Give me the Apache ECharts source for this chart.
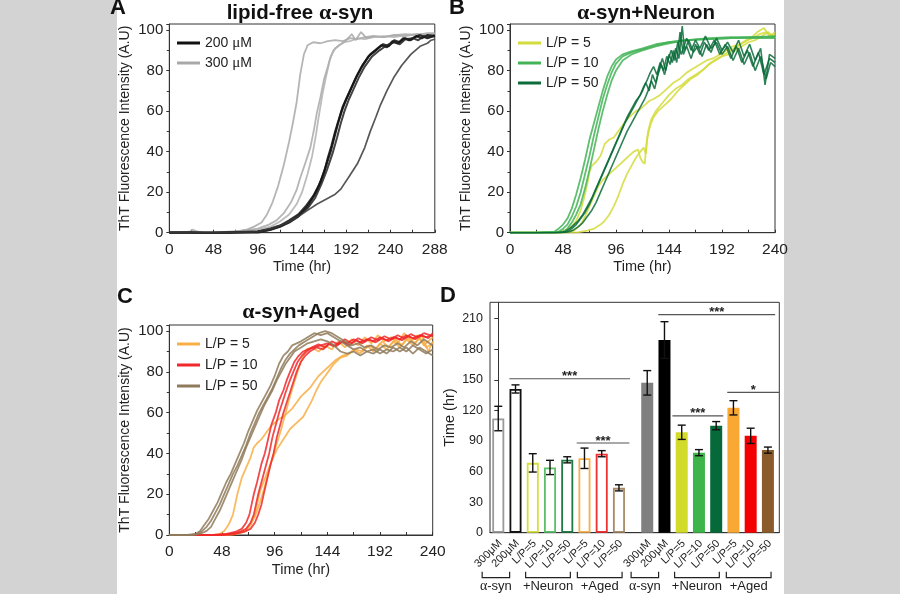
<!DOCTYPE html>
<html><head><meta charset="utf-8">
<script src="https://cdn.jsdelivr.net/npm/echarts@6/dist/echarts.min.js"></script>
<style>
html,body{margin:0;padding:0;}
body{width:900px;height:594px;overflow:hidden;background:linear-gradient(to right,#d3d3d3 0,#d3d3d3 117px,#fff 117px,#fff 784px,#d3d3d3 784px,#d3d3d3 900px);}
#c{width:900px;height:594px;}
</style></head><body><div id="c"></div>
<script>
const FONT = "'Liberation Sans', Arial, sans-serif";
const GREEK = "'Liberation Serif', 'DejaVu Serif', serif";

// ---------- Panel A : lipid-free a-syn (time hr, ThT A.U) ----------
const A300_1 = [[0,0],[12,0],[22,0.3],[25,1.5],[29,0.8],[36,0],[48,-0.3],[60,0],[72,0.5],[84,1.5],[92,3],[100,5],[106,9],[112,15],[118,23],[124,33],[130,45],[134,54],[138,64],[142,78],[146,88],[150,92.5],[156,94],[164,93.5],[172,94.5],[180,95],[188,94.5],[196,96],[204,95.5],[212,96.5],[220,97],[232,96.5],[244,97.5],[256,97],[268,98],[280,97.5],[288,98]];
const A300_2 = [[0,0],[24,0.5],[48,0],[72,0.5],[96,2],[108,4],[116,6],[124,9.5],[132,15],[138,21],[142,27],[148,35],[153,42],[157,51],[160,59],[164,67],[168,76],[172,82],[175,87],[180,91],[186,93],[192,95],[198,98],[202,95],[208,99],[214,96],[222,97],[232,96.5],[244,97.5],[256,98],[268,97.5],[280,98.5],[288,98.5]];
const A300_3 = [[0,0],[48,0],[96,1.5],[110,3],[120,5.5],[130,9],[138,14],[144,20],[150,29],[155,38],[159,48],[162,57],[166,68],[170,77],[174,85],[178,90],[184,92.5],[190,94],[196,94.5],[204,96],[212,95.5],[222,96.5],[232,97],[244,96.5],[256,97.5],[268,98],[280,97.5],[288,98]];
const A200_1 = [[0,0],[24,0],[48,-0.5],[72,0],[96,0.5],[110,2],[120,3.5],[130,6],[140,9],[148,13],[156,18],[162,23],[168,30],[172,37],[176,43],[180,50],[184,56],[188,62],[193,67],[198,72],[204,78],[210,83],[218,88],[226,91],[232,93],[238,92],[244,95],[250,94],[256,96],[262,95],[268,97],[274,96],[280,97.5],[288,97]];
const A200_2 = [[0,0],[48,0],[96,0.5],[110,1.5],[120,3],[130,5],[140,8],[150,13],[158,19],[164,25],[170,33],[175,40],[179,47],[183,54],[187,60],[192,66],[197,71],[203,77],[209,82],[216,87],[224,90],[230,92.5],[236,91.5],[242,94.5],[248,93.5],[254,96],[260,95],[266,96.5],[272,97.5],[280,96],[288,97.5]];
const A200_3 = [[0,0],[48,0],[96,0],[110,1.5],[120,3],[130,5.5],[140,8.5],[150,12],[158,17],[165,24],[171,31],[177,39],[182,47],[186,54],[190,60],[195,66],[200,71],[206,77],[212,82],[220,87],[228,90],[236,92.5],[244,94],[250,93],[256,95.5],[264,96],[270,95],[276,97],[282,96.5],[288,97]];
const A200_4 = [[0,0],[48,0],[96,0.5],[110,2],[120,3.5],[130,5.5],[140,8],[150,11],[160,14],[170,16.5],[180,19],[186,21.5],[194,27],[204,34],[212,42],[218,50],[224,57],[229,63],[236,70],[244,77],[252,82.5],[262,88],[272,92],[280,93.5],[284,95],[288,95.5]];

// ---------- Panel B : a-syn + Neuron ----------
const B10_1 = [[0,0],[24,0],[40,0.5],[44,2],[48,4],[52,7],[56,12],[60,19],[64,27],[68,36],[72,46],[76,54],[80,62],[84,70],[88,77],[92,82],[96,85.5],[102,88],[110,89.5],[120,91],[132,93],[144,94],[160,95],[180,95.5],[200,96],[220,96],[240,96]];
const B10_2 = [[0,0],[24,0],[44,0.5],[48,2],[52,4],[56,8],[60,13],[64,20],[68,29],[72,38],[76,48],[80,57],[84,66],[88,73],[92,79],[96,83.5],[102,87],[110,89],[120,90.5],[132,92.5],[144,94],[160,95],[180,96],[200,96.5],[220,96.5],[240,97]];
const B10_3 = [[0,0],[40,0],[48,0.5],[52,2],[56,5],[60,9],[64,14],[68,22],[72,31],[76,41],[80,51],[84,60],[88,68],[92,75],[96,80],[102,85],[110,88],[120,90],[132,92],[144,93.5],[160,95],[180,95.5],[200,96],[220,96.5],[240,96.5]];
const B50_1 = [[0,0],[40,0],[50,0.5],[54,2],[58,4],[62,6],[66,9],[70,13],[74,17],[78,22],[82,27],[86,32],[90,37],[94,42],[98,47],[102,52],[106,57],[110,61],[114,65],[118,68],[121,72],[124,75],[127,79],[130,82],[133,78],[136,84],[139,80],[142,87],[145,83],[148,90],[151,84],[154,99],[157,88],[160,92],[164,86],[168,93],[172,88],[176,94],[180,90],[185,95],[190,88],[195,93],[200,86],[205,92],[210,84],[215,90],[220,82],[225,89],[230,78],[235,86],[240,84]];
const B50_2 = [[0,0],[44,0],[52,0.5],[56,2],[60,4],[64,7],[68,10],[72,14],[76,19],[80,24],[84,29],[88,34],[92,39],[96,44],[100,49],[104,54],[108,58],[112,62],[116,66],[120,70],[123,74],[126,70],[129,78],[132,74],[135,81],[138,86],[141,80],[144,88],[147,84],[150,91],[153,86],[156,102],[158,90],[162,95],[166,89],[170,92],[174,87],[178,93],[182,89],[187,96],[192,90],[197,94],[202,89],[207,95],[212,87],[217,93],[222,85],[227,91],[231,73],[235,88],[240,86]];
const B50_3 = [[0,0],[46,0],[54,0.5],[58,1.5],[62,3],[66,5],[70,8],[74,11],[78,15],[82,20],[86,25],[90,30],[94,35],[98,40],[102,45],[106,50],[110,54],[114,58],[118,62],[122,66],[125,70],[128,75],[131,71],[134,78],[137,83],[140,78],[143,85],[146,90],[149,85],[152,94],[155,88],[160,96],[164,90],[168,95],[172,91],[177,97],[182,91],[187,94],[192,88],[197,92],[202,85],[207,91],[212,83],[217,89],[222,80],[227,87],[232,76],[236,84],[240,82]];
const B5_1 = [[0,0],[40,0],[50,1],[56,3],[60,6],[64,11],[67,17],[70,24],[72,30],[74,33],[78,35],[82,38],[86,44],[90,46],[94,47],[98,50],[102,53],[106,56],[110,58],[114,60],[118,61],[122,63],[126,65],[130,66],[136,68],[142,71],[148,74],[154,76],[160,79],[166,81],[172,83],[178,85],[184,86],[190,88],[196,90],[202,92],[208,93],[214,95],[220,96],[226,98],[232,99],[236,97],[240,98]];
const B5_2 = [[0,0],[50,0],[58,1],[64,4],[68,8],[72,13],[76,18],[80,23],[84,26],[88,28],[92,30],[96,32],[100,34],[104,36],[108,38],[112,40],[116,41],[118,37],[120,35],[122,34],[124,46],[127,53],[130,57],[134,60],[140,63],[146,66],[152,70],[158,73],[164,76],[170,78],[176,81],[182,84],[188,86],[194,88],[200,90],[206,92],[212,94],[218,96],[224,99],[230,101],[235,97],[240,99]];
const B5_3 = [[0,0],[60,0],[70,1],[76,2],[82,4],[86,6],[90,9],[94,13],[98,18],[102,24],[106,29],[110,33],[114,37],[118,40],[121,42],[123,39],[125,50],[128,56],[132,60],[138,64],[144,68],[150,71],[156,73],[162,76],[168,78],[174,80],[180,83],[186,85],[192,87],[198,88],[204,90],[210,92],[216,94],[222,95],[228,97],[234,99],[240,96]];

// ---------- Panel C : a-syn + Aged ----------
const C50_1 = [[0,0],[16,0],[24,0.5],[28,2],[32,5],[36,8],[40,12],[44,16],[48,21],[52,26],[56,30],[60,35],[64,40],[68,45],[72,51],[76,56],[80,61],[84,65],[88,69],[92,73],[96,78],[100,84],[104,88],[108,90],[112,93],[116,94],[120,95],[126,97],[132,99],[138,98],[144,99],[150,97],[156,95],[162,93],[168,91],[174,92],[180,90],[186,91],[192,89],[198,91],[204,90],[210,92],[216,90],[222,93],[228,91],[234,89],[240,91]];
const C50_2 = [[0,0],[20,0],[26,0.5],[30,2],[34,4],[38,7],[42,11],[46,15],[50,20],[54,25],[58,30],[62,34],[66,39],[70,44],[74,50],[78,55],[82,60],[86,64],[90,68],[94,72],[98,77],[102,82],[106,86],[110,89],[114,91],[118,93],[124,95],[130,97],[136,99],[142,100],[148,99],[154,97],[160,95],[166,93],[172,94],[178,92],[184,93],[190,91],[196,93],[202,92],[208,94],[214,92],[220,95],[226,93],[232,96],[240,93]];
const C50_3 = [[0,0],[22,0],[30,1],[34,2],[38,4],[42,8],[46,12],[50,17],[54,22],[58,27],[62,32],[66,37],[70,43],[74,48],[78,53],[82,58],[86,63],[90,67],[94,71],[98,76],[102,80],[106,84],[110,87],[114,90],[120,92],[126,94],[132,95],[138,96],[144,95],[150,93],[156,90],[162,89],[168,90],[174,88],[180,90],[186,89],[192,91],[198,89],[204,92],[210,90],[216,92],[222,89],[228,92],[234,90],[240,88]];
const C10_1 = [[0,0],[40,0],[52,0.5],[60,1.5],[66,3],[70,6],[73,10],[75,15],[77,20],[80,26],[84,35],[87,40],[90,47],[93,54],[97,60],[100,66],[104,71],[107,76],[110,80],[114,85],[118,88],[122,90],[126,91],[132,92],[138,93],[144,94],[150,92.5],[156,95],[162,94],[168,96],[174,94.5],[180,96],[186,95],[192,97],[198,95.5],[204,97],[210,96],[216,98],[222,96.5],[228,98],[234,97],[240,98]];
const C10_2 = [[0,0],[44,0],[56,0.5],[64,1.5],[70,3],[74,6],[77,10],[79,15],[81,20],[84,26],[88,34],[91,40],[94,48],[97,54],[100,60],[103,65],[106,70],[110,76],[113,80],[117,85],[121,88],[125,90],[130,92],[136,93.5],[142,92],[148,95],[154,93.5],[160,96],[166,94],[172,96.5],[178,95],[184,97],[190,95.5],[196,97.5],[202,96],[208,98],[214,96.5],[220,98.5],[226,97],[232,99],[240,97.5]];
const C10_3 = [[0,0],[48,0],[60,0.5],[68,1.5],[74,3],[78,6],[81,10],[84,15],[86,20],[89,27],[92,34],[95,40],[98,48],[101,54],[104,60],[107,65],[110,70],[113,75],[116,80],[120,85],[124,88],[128,90],[134,92],[140,91],[146,94],[152,92.5],[158,95],[164,93],[170,95.5],[176,94],[182,96],[188,94.5],[194,96.5],[200,95],[206,97],[212,95.5],[218,97.5],[224,96],[230,98],[236,96.5],[240,99]];
const C5_1 = [[0,0],[40,0],[46,0.5],[50,2],[54,5],[58,10],[60,15],[62,20],[64,24],[66,28],[70,33],[74,38],[77,43],[80,45],[84,47],[88,50],[92,53],[96,55],[100,57],[104,58],[108,60],[112,62],[116,65],[120,68],[124,70],[128,72],[132,75],[136,78],[140,80],[146,83],[152,86],[158,88],[164,89],[170,91],[176,90],[182,93],[188,91],[194,95],[200,92],[206,96],[212,93],[218,97],[224,94],[230,98],[236,90],[240,95]];
const C5_2 = [[0,0],[50,0],[60,0.5],[68,2],[74,5],[78,10],[80,15],[83,22],[88,29],[93,36],[98,42],[104,47],[110,52],[116,55],[122,58],[126,62],[130,66],[134,71],[138,75],[142,78],[146,81],[150,84],[156,87],[162,88],[168,91],[174,89],[180,93],[186,90],[192,94],[198,91],[204,95],[210,92],[216,96],[222,93],[228,97],[234,92],[240,94]];
const C5_3 = [[0,0],[50,0],[62,0.5],[70,2],[74,5],[78,9],[82,15],[86,22],[90,30],[94,38],[98,45],[102,52],[106,60],[110,68],[114,75],[118,82],[122,88],[125,91],[130,92],[136,90],[142,93],[148,91],[154,95],[160,92],[166,96],[172,93],[178,97],[184,94],[190,98],[196,95],[202,97],[208,94],[214,99],[220,95],[226,98],[232,93],[240,97]];

// ---------- Panel D : time bars ----------
const dLabels = ['300μM','200μM','L/P=5','L/P=10','L/P=50','L/P=5','L/P=10','L/P=50','300μM','200μM','L/P=5','L/P=10','L/P=50','L/P=5','L/P=10','L/P=50'];
const dValues = [112,141,68.5,64,71.5,73,77.5,44, 147,189,98.5,78.5,105,122.5,95,81];
const dErrors = [12,4,9,7,3,10,3,3, 12,18,7,3,4,7,7.5,3];
const dGroups = [[0,1],[2,4],[5,7],[8,9],[10,12],[13,15]];
const dGroupNames = ['{g|α}-syn','+Neuron','+Aged','{g|α}-syn','+Neuron','+Aged'];
const sigLines = [[0.64,7.64,151],[4.55,7.6,88],[9.28,16.06,214],[10.1,13.05,114.6],[13.28,16.3,137.6]];
const sigText = ['***','***','***','***','*'];

// styles
const openColors = ['#9a9a9a','#111111','#d6df3c','#5cc068','#1f7a45','#f8b04c','#ee3030','#a88a68'];
const fillColors = ['#808080','#000000','#d2db2a','#3db54a','#05693a','#f9a834','#f50000','#8c5b2c'];
const GROUP_GAP = 0.64;
function pos(i){ return i + (i >= 8 ? GROUP_GAP : 0); }

const chart = echarts.init(document.getElementById('c'));

function timeAxis(gi,max){
  return {gridIndex:gi,type:'value',min:0,max:max,interval:48,
    axisLine:{show:true,onZero:false,lineStyle:{color:'#333',width:1}},
    axisTick:{show:true,inside:true,length:3,lineStyle:{color:'#333'}},
    minorTick:{show:true,splitNumber:2,length:3,lineStyle:{color:'#333'}},
    splitLine:{show:false}, minorSplitLine:{show:false},
    axisLabel:{fontSize:15.5,color:'#222',fontFamily:FONT,margin:9},
    name:'Time (hr)',nameLocation:'middle',nameGap:27,
    nameTextStyle:{fontSize:14.5,color:'#222',fontFamily:FONT}};
}
function thtAxis(gi){
  return {gridIndex:gi,type:'value',min:0,max:103,interval:20,
    axisLine:{show:true,onZero:false,lineStyle:{color:'#333',width:1}},
    axisTick:{show:true,length:3,lineStyle:{color:'#333'}},
    minorTick:{show:true,splitNumber:2,length:2.5,lineStyle:{color:'#333'}},
    splitLine:{show:false}, minorSplitLine:{show:false},
    axisLabel:{fontSize:15,color:'#222',fontFamily:FONT,margin:6,showMaxLabel:false},
    name:'ThT Fluorescence Intensity (A.U)',nameLocation:'middle',nameGap:37,
    nameTextStyle:{fontSize:14,color:'#222',fontFamily:FONT}};
}
function curve(name,gi,data,color,width,z){
  return {type:'line',name:name,xAxisIndex:gi,yAxisIndex:gi,data:data,showSymbol:false,symbol:'none',
    lineStyle:{color:color,width:width,opacity:0.85},itemStyle:{color:color},silent:true,z:z||2};
}
const legendNames = {A200:'200 {g|μ}M',A300:'300 {g|μ}M',B5:'L/P = 5',B10:'L/P = 10',B50:'L/P = 50',C5:'L/P = 5',C10:'L/P = 10',C50:'L/P = 50'};
function legend(left,top,names,gap){
  return {left:left,top:top,orient:'vertical',padding:0,itemGap:gap,itemWidth:23,itemHeight:3,icon:'rect',
    selectedMode:false,data:names,formatter:n=>legendNames[n],
    textStyle:{fontSize:14,color:'#222',fontFamily:FONT,lineHeight:16,rich:{g:{fontFamily:GREEK,fontSize:15,color:'#222'}}}};
}
const titleRichStyle = {b:{fontSize:20.5,fontWeight:'bold',fontFamily:FONT,color:'#111'},g:{fontSize:22,fontFamily:GREEK,color:'#111'}};
const letterStyle = {fontSize:22,fontWeight:'bold',fontFamily:FONT,color:'#111'};

const option = {
  animation:false,
  backgroundColor:'transparent',
  title:[
    {text:'A',left:110,top:-3,padding:0,textStyle:letterStyle},
    {text:'B',left:449,top:-3,padding:0,textStyle:letterStyle},
    {text:'C',left:117,top:286,padding:0,textStyle:letterStyle},
    {text:'D',left:440,top:285,padding:0,textStyle:letterStyle},
    {text:'{b|lipid-free }{g|α}{b|-syn}',left:300,top:2,padding:0,textAlign:'center',textStyle:{rich:titleRichStyle}},
    {text:'{g|α}{b|-syn+Neuron}',left:646,top:2,padding:0,textAlign:'center',textStyle:{rich:titleRichStyle}},
    {text:'{g|α}{b|-syn+Aged}',left:301,top:301,padding:0,textAlign:'center',textStyle:{rich:titleRichStyle}}
  ],
  legend:[
    legend(177,35,['A200','A300'],4),
    legend(518,35,['B5','B10','B50'],4),
    legend(177,336,['C5','C10','C50'],5)
  ],
  grid:[
    {left:169.3,top:24,width:265.5,height:208.7,show:true,borderColor:'#333',borderWidth:1,backgroundColor:'transparent'},
    {left:510,top:24,width:265,height:208.7,show:true,borderColor:'#333',borderWidth:1,backgroundColor:'transparent'},
    {left:169.3,top:325,width:263.4,height:210,show:true,borderColor:'#333',borderWidth:1,backgroundColor:'transparent'},
    {left:490,top:302.3,width:289.3,height:230.4,show:true,borderColor:'#333',borderWidth:1,backgroundColor:'transparent'}
  ],
  xAxis:[
    timeAxis(0,288), timeAxis(1,240), timeAxis(2,240),
    {gridIndex:3,type:'value',min:-0.48,max:16.3,axisLine:{show:true,lineStyle:{color:'#333'}},axisTick:{show:false},axisLabel:{show:false},splitLine:{show:false}}
  ],
  yAxis:[
    thtAxis(0), thtAxis(1), thtAxis(2),
    {gridIndex:3,type:'value',min:0,max:226,interval:30,
      axisLine:{show:true,lineStyle:{color:'#333'}},axisTick:{show:true,length:4,lineStyle:{color:'#333'}},
      splitLine:{show:false},axisLabel:{fontSize:12.5,color:'#222',fontFamily:FONT,margin:7,showMaxLabel:false},
      name:'Time (hr)',nameLocation:'middle',nameGap:33,nameTextStyle:{fontSize:14.5,color:'#222',fontFamily:FONT}}
  ],
  series:[
    curve('A300',0,A300_1,'#a8a8a8',1.8), curve('A300',0,A300_2,'#a8a8a8',1.8), curve('A300',0,A300_3,'#b0b0b0',1.8),
    curve('A200',0,A200_1,'#111111',2.2,3), curve('A200',0,A200_2,'#111111',2.2,3), curve('A200',0,A200_3,'#222222',2,3), curve('A200',0,A200_4,'#3a3a3a',1.7,3),
    curve('B5',1,B5_1,'#d3dc3c',1.8), curve('B5',1,B5_2,'#d3dc3c',1.8), curve('B5',1,B5_3,'#d3dc3c',1.8),
    curve('B10',1,B10_1,'#43b356',1.8), curve('B10',1,B10_2,'#43b356',1.8), curve('B10',1,B10_3,'#43b356',1.8),
    curve('B50',1,B50_1,'#0b6b39',1.6,3), curve('B50',1,B50_2,'#0b6b39',1.6,3), curve('B50',1,B50_3,'#0b6b39',1.6,3),
    curve('C5',2,C5_1,'#f8ae45',1.8), curve('C5',2,C5_2,'#f8ae45',1.8), curve('C5',2,C5_3,'#f8ae45',1.8),
    curve('C10',2,C10_1,'#f0282a',1.8), curve('C10',2,C10_2,'#f0282a',1.8), curve('C10',2,C10_3,'#f0282a',1.8),
    curve('C50',2,C50_1,'#8f7a5b',1.8), curve('C50',2,C50_2,'#8f7a5b',1.8), curve('C50',2,C50_3,'#8f7a5b',1.8),
    {type:'bar',xAxisIndex:3,yAxisIndex:3,barWidth:12,silent:true,z:2,
      data:dValues.map((v,i)=>({value:[pos(i),v],itemStyle:i<8?{color:'#fff',borderColor:openColors[i],borderWidth:1.8}:{color:fillColors[i-8]}}))},
    {type:'custom',xAxisIndex:3,yAxisIndex:3,silent:true,z:4,
      data:dValues.map((v,i)=>[pos(i),v,dErrors[i]]),
      renderItem:function(params,api){
        const x=api.value(0),v=api.value(1),e=api.value(2);
        const t=api.coord([x,v+e]),b=api.coord([x,v-e]);const c=4;
        const st={stroke:'#111',lineWidth:1.4};
        return {type:'group',children:[
          {type:'line',shape:{x1:t[0],y1:t[1],x2:b[0],y2:b[1]},style:st},
          {type:'line',shape:{x1:t[0]-c,y1:t[1],x2:t[0]+c,y2:t[1]},style:st},
          {type:'line',shape:{x1:b[0]-c,y1:b[1],x2:b[0]+c,y2:b[1]},style:st}]};
      }},
    {type:'custom',xAxisIndex:3,yAxisIndex:3,silent:true,z:4,
      data:dLabels.map((l,i)=>[pos(i),0]),
      renderItem:function(params,api){
        const p=api.coord([api.value(0),0]);
        return {type:'text',x:p[0]+2,y:p[1]+9,rotation:Math.PI/4,
          style:{text:dLabels[params.dataIndex],align:'right',verticalAlign:'middle',fontSize:11,fontFamily:FONT,fill:'#222'}};
      }},
    {type:'custom',xAxisIndex:3,yAxisIndex:3,silent:true,z:4,
      data:dGroups.map(g=>[pos(g[0]),pos(g[1])]),
      renderItem:function(params,api){
        const g=dGroups[params.dataIndex];
        const n=g[1]-g[0]+1;
        const s=api.size([1,0])[0];
        const p0=api.coord([api.value(0),0]),p1=api.coord([api.value(1),0]);
        const cx=(p0[0]+p1[0])/2-(n===2?11:2), half=(n*s-7)/2, yb=p0[1]+45;
        return {type:'group',children:[
          {type:'polyline',shape:{points:[[cx-half,yb-6],[cx-half,yb],[cx+half,yb],[cx+half,yb-6]]},style:{stroke:'#222',lineWidth:1.2,fill:null}},
          {type:'text',x:cx,y:yb+9,style:{text:dGroupNames[params.dataIndex],align:'center',verticalAlign:'middle',fontSize:13,fontFamily:FONT,fill:'#222',
            rich:{g:{fontFamily:GREEK,fontSize:14,fill:'#222'}}}}]};
      }},
    {type:'custom',xAxisIndex:3,yAxisIndex:3,silent:true,z:4,
      data:sigLines,
      renderItem:function(params,api){
        const a=api.coord([api.value(0),api.value(2)]),b=api.coord([api.value(1),api.value(2)]);
        return {type:'group',children:[
          {type:'line',shape:{x1:a[0],y1:a[1],x2:b[0],y2:b[1]},style:{stroke:'#555',lineWidth:1.2}},
          {type:'text',x:(a[0]+b[0])/2,y:a[1]-2,style:{text:sigText[params.dataIndex],align:'center',verticalAlign:'middle',fontSize:13,fontWeight:'bold',fontFamily:FONT,fill:'#222'}}]};
      }}
  ]
};
chart.setOption(option);
</script></body></html>
